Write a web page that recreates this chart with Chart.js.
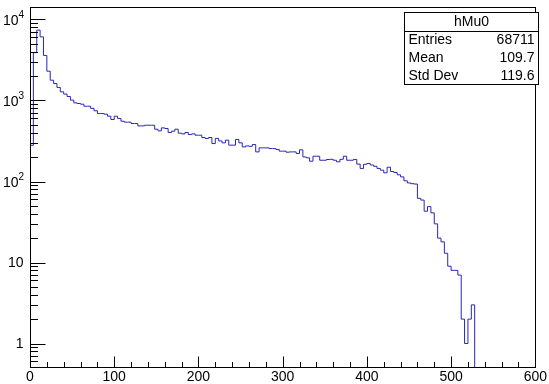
<!DOCTYPE html>
<html><head><meta charset="utf-8">
<script src="https://cdn.jsdelivr.net/npm/chart.js@4.4.0/dist/chart.umd.min.js"></script>
<style>html,body{margin:0;padding:0;background:#fff;}#wrap{width:549px;height:384px;}</style>
</head><body><div id="wrap"><canvas id="c" width="549" height="384"></canvas></div>
<script>
// ---- data ----
const histName = 'hMu0';
const binWidth = 4;            // x units per bin, bins start at 0
const counts = [
  280, 3900, 7400, 6100, 3600, 2300, 1780, 1620, 1450, 1280,
  1200, 1120, 1010, 935, 918, 900, 850, 850, 800, 747,
  690, 690, 678, 640, 582, 640, 600, 555, 540, 540,
  520, 520, 486, 486, 495, 495, 495, 442, 422, 459,
  451, 403, 418, 442, 395, 387, 403, 380, 387, 373,
  373, 349, 340, 349, 294, 340, 317, 300, 324, 281,
  281, 330, 300, 267, 275, 272, 286, 232, 260, 260,
  260, 255, 255, 248, 237, 237, 230, 232, 232, 222,
  246, 201, 196, 178, 205, 205, 183, 183, 187, 188,
  183, 175, 188, 205, 183, 183, 187, 164, 145, 163,
  167, 160, 154, 145, 138, 128, 150, 133, 129, 121,
  114, 102, 96, 94, 93, 62, 59, 43, 49, 41,
  30, 20, 18, 13, 9, 8, 8, 7, 2, 1,
  2, 3
];
const xTickValues = [0, 100, 200, 300, 400, 500, 600];
const xMinorDivs = 5;
const yTickValues = [1, 10, 100, 1000, 10000];
const yTickLabels = ['1', '10', '10^2', '10^3', '10^4'];
const statsLabels = ['Entries', 'Mean', 'Std Dev'];
const statsValues = ['68711', '109.7', '119.6'];
const yAxisMin = 0.513, yAxisMax = 14260;
const lineColor = '#2727b4';
const FONT = "'Liberation Sans', Arial, sans-serif";

// histogram outline: left bin edges + closing drop at the last edge
const points = counts.map((v, i) => ({ x: i * binWidth, y: v }));
points.push({ x: counts.length * binWidth, y: yAxisMin });

const rootPlugin = {
  id: 'rootStyle',
  afterDatasetsDraw(chart) {
    const { ctx, chartArea: a, scales: { x, y } } = chart;
    ctx.save();
    ctx.strokeStyle = '#000';
    ctx.lineWidth = 1;
    const L = Math.round(a.left) + 0.5, R = Math.round(a.right) + 0.5;
    const T = Math.round(a.top) + 0.5, B = Math.round(a.bottom) + 0.5;
    ctx.strokeRect(L, T, R - L, B - T);
    ctx.beginPath();
    // x ticks (inside, bottom)
    for (let i = 0; i < xTickValues.length; i++) {
      const px = Math.round(x.getPixelForValue(xTickValues[i])) + 0.5;
      ctx.moveTo(px, B); ctx.lineTo(px, B - 11);
      if (i < xTickValues.length - 1) {
        const step = (xTickValues[i + 1] - xTickValues[i]) / xMinorDivs;
        for (let k = 1; k < xMinorDivs; k++) {
          const pm = Math.round(x.getPixelForValue(xTickValues[i] + k * step)) + 0.5;
          ctx.moveTo(pm, B); ctx.lineTo(pm, B - 5.5);
        }
      }
    }
    // y ticks (inside, left), log minors
    for (let d = -1; d <= 4; d++) {
      const dec = Math.pow(10, d);
      for (let m = 1; m <= 9; m++) {
        const v = m * dec;
        if (v < yAxisMin || v > yAxisMax) continue;
        const py = Math.round(y.getPixelForValue(v)) + 0.5;
        const len = (m === 1) ? 15 : 7.5;
        ctx.moveTo(L, py); ctx.lineTo(L + len, py);
      }
    }
    ctx.stroke();

    // y labels
    ctx.fillStyle = '#000';
    ctx.textBaseline = 'middle';
    for (let i = 0; i < yTickValues.length; i++) {
      const py = y.getPixelForValue(yTickValues[i]);
      const parts = yTickLabels[i].split('^');
      if (parts.length === 1) {
        ctx.font = '14px ' + FONT;
        ctx.textAlign = 'right';
        ctx.fillText(parts[0], 23.5, py + 0.5);
      } else {
        ctx.font = '10px ' + FONT;
        ctx.textAlign = 'left';
        ctx.fillText(parts[1], 18.5, py - 4);
        ctx.font = '14px ' + FONT;
        ctx.textAlign = 'right';
        ctx.fillText(parts[0], 18.5, py + 2);
      }
    }

    // stats box
    const bx1 = 404.5, bx2 = 538.5, by1 = 12.5, by2 = 84.5;
    const rowH = (by2 - by1) / 4;
    ctx.fillStyle = '#fff';
    ctx.fillRect(bx1, by1, bx2 - bx1, by2 - by1);
    ctx.strokeStyle = '#000';
    ctx.strokeRect(bx1, by1, bx2 - bx1, by2 - by1);
    ctx.beginPath();
    ctx.moveTo(bx1, Math.round(by1 + rowH) + 0.5);
    ctx.lineTo(bx2, Math.round(by1 + rowH) + 0.5);
    ctx.stroke();
    ctx.fillStyle = '#000';
    ctx.font = '14px ' + FONT;
    ctx.textAlign = 'center';
    ctx.fillText(histName, (bx1 + bx2) / 2, by1 + rowH / 2 + 1);
    for (let i = 0; i < statsLabels.length; i++) {
      const cy = by1 + rowH * (i + 1.5) + 1;
      ctx.textAlign = 'left';
      ctx.fillText(statsLabels[i], bx1 + 4, cy);
      ctx.textAlign = 'right';
      ctx.fillText(statsValues[i], bx2 - 4, cy);
    }
    ctx.restore();
  }
};

new Chart(document.getElementById('c'), {
  type: 'line',
  data: { datasets: [{
    data: points, stepped: 'before', borderColor: lineColor, borderWidth: 1,
    pointRadius: 0, fill: false, tension: 0
  }] },
  options: {
    responsive: false, animation: false, devicePixelRatio: 1,
    layout: { padding: { left: 0, right: 12, top: 7, bottom: 0 } },
    plugins: { legend: { display: false }, tooltip: { enabled: false } },
    scales: {
      x: {
        type: 'linear', min: 0, max: 600,
        grid: { display: false, drawTicks: false }, border: { display: false },
        afterBuildTicks: s => { s.ticks = xTickValues.map(v => ({ value: v })); },
        ticks: { font: { family: FONT, size: 14 }, color: '#000', padding: 2, maxRotation: 0, autoSkip: false },
        afterFit: s => { s.height = 17; }
      },
      y: {
        type: 'logarithmic', min: yAxisMin, max: yAxisMax,
        grid: { display: false, drawTicks: false }, border: { display: false },
        ticks: { display: false },
        afterFit: s => { s.width = 30; }
      }
    }
  },
  plugins: [rootPlugin]
});
</script>
</body></html>
